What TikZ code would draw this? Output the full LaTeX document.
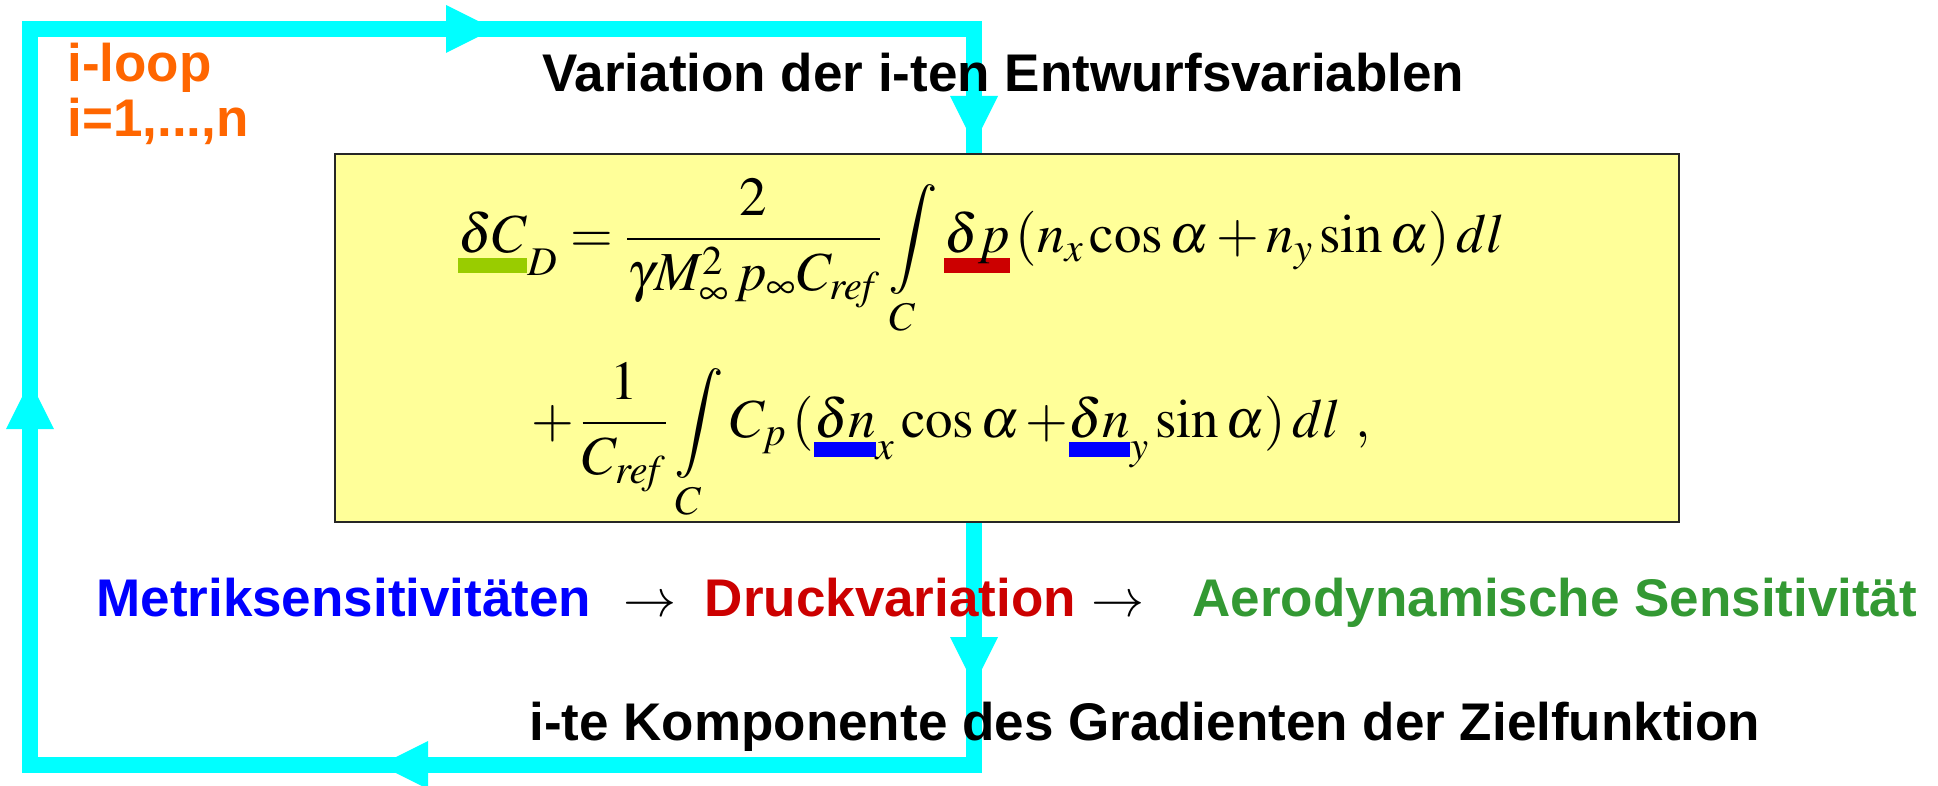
\documentclass[tikz,border=0pt]{standalone}
\usepackage{mathptmx}
\usepackage[no-math]{fontspec}
\setmainfont{Liberation Sans}
\usetikzlibrary{arrows.meta, positioning}

\definecolor{loopcyan}{HTML}{00FFFF}
\definecolor{looporange}{HTML}{FF6600}
\definecolor{boxyellow}{HTML}{FFFF99}
\definecolor{metricblue}{HTML}{0000FF}
\definecolor{pressred}{HTML}{CC0000}
\definecolor{aerogreen}{HTML}{339933}
\definecolor{barlime}{HTML}{99CC00}

% coloured bar under a math term
\newcommand{\hlbar}[2]{\mathord{\setbox0=\hbox{$#2$}\rlap{\color{#1}\rule[-10pt]{\wd0}{7.5pt}}\box0}}

\begin{document}
\begin{tikzpicture}[
    x=0.5pt, y=-0.5pt,
    loopline/.style={draw=loopcyan, line width=8pt, line join=miter},
    looparrow/.style={loopline, -{Triangle[length=24pt, width=24pt, line width=0pt]}},
    formbox/.style={rectangle, draw=black!85, line width=1pt, fill=boxyellow, inner sep=0pt, minimum width=672pt, minimum height=184pt},
    label/.style={inner sep=0pt, font=\fontsize{26.5}{32}\selectfont\bfseries},
    formula/.style={inner sep=0pt, font=\fontsize{27.5}{33}\selectfont}
]
\useasboundingbox (0,0) rectangle (1938,786);

% Loop corners and arrow tips
\coordinate (bl) at (30,765);
\coordinate (tl) at (30,29);
\coordinate (tr) at (974,29);
\coordinate (br) at (974,765);
\coordinate (uptip) at (30,381);
\coordinate (righttip) at (494,29);
\coordinate (downtipA) at (974,144);
\coordinate (downtipB) at (974,685);
\coordinate (lefttip) at (380,765);

\draw[loopline] (bl) -- (tl) -- (tr) -- (br) -- cycle;
\draw[looparrow] (bl) -- (uptip);
\draw[looparrow] (tl) -- (righttip);
\draw[looparrow] (tr) -- (downtipA);
\draw[looparrow] (downtipA) -- (downtipB);
\draw[looparrow] (br) -- (lefttip);

% Formula box
\node[formbox, anchor=north west] (box) at (334,153) {};
\node[formula, anchor=base west] (lineA) at (458,253)
  {$\displaystyle \hlbar{barlime}{\delta C}_{D} = \frac{2}{\gamma M_{\infty}^{2}\, p_{\infty} C_{\mathit{ref}}} \int\limits_{C} \hlbar{pressred}{\delta p}\,(n_{x}\cos\alpha + n_{y}\sin\alpha)\,dl$};
\node[formula, anchor=base west] (lineB) at (531,437)
  {$\displaystyle +\,\frac{1}{C_{\mathit{ref}}}\int\limits_{C} C_{p}\,(\hlbar{metricblue}{\delta n}_{x}\cos\alpha\,{+}\hlbar{metricblue}{\delta n}_{y}\sin\alpha)\,dl\ ,$};

% Labels
\node[label, text=looporange, anchor=base west] (iloop) at (67,82) {i-loop};
\node[label, text=looporange, anchor=base west] (irange) at (67,137) {i=1,...,n};
\node[label, anchor=base west] (title) at (542,92) {Variation der i-ten Entwurfsvariablen};

\node[label, text=metricblue, anchor=base west] (metrik) at (96,616) {Metriksensitivitäten};
\node[label, base right=15.5pt of metrik] (arrA) {$\rightarrow$};
\node[label, text=pressred, base right=14pt of arrA] (druck) {Druckvariation};
\node[label, base right=7.5pt of druck] (arrB) {$\rightarrow$};
\node[label, text=aerogreen, base right=23.5pt of arrB] (aero) {Aerodynamische Sensitivität};

\node[label, anchor=base west] (gradient) at (529,740) {i-te Komponente des Gradienten der Zielfunktion};

\end{tikzpicture}
\end{document}
